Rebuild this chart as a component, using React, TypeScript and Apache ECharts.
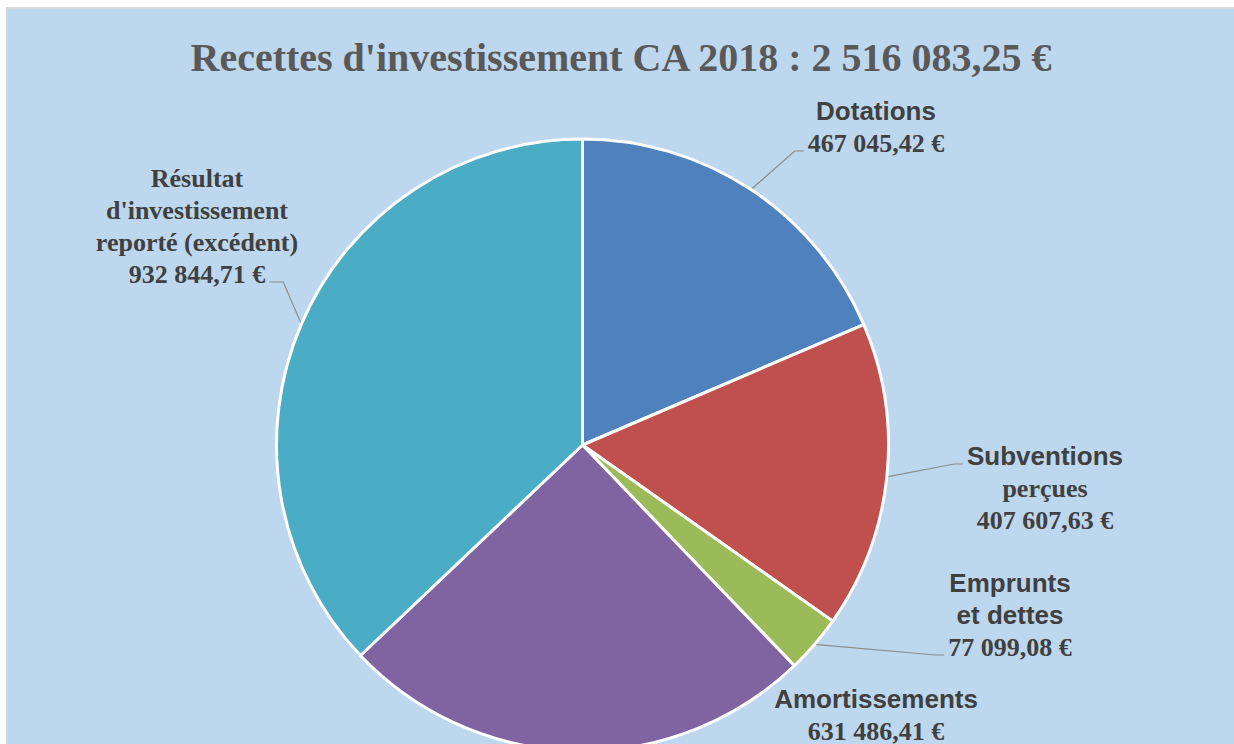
import React, { useEffect, useRef } from "react";
import * as echarts from "echarts";

const titleText = "Recettes d'investissement CA 2018 : 2 516 083,25 €";
const categories = [
  "Dotations",
  "Subventions perçues",
  "Emprunts et dettes",
  "Amortissements",
  "Résultat d'investissement reporté (excédent)",
];
const values = [467045.42, 407607.63, 77099.08, 631486.41, 932844.71];
const colors = ["#4F81BD", "#C0504D", "#9BBB59", "#8064A2", "#4BACC6"];
// label rows: [style, text]; the value row is appended
const labelRows: [string, string][][] = [
  [["s", "Dotations"]],
  [["s", "Subventions"], ["r", "perçues"]],
  [["s", "Emprunts"], ["s", "et dettes"]],
  [["s", "Amortissements"]],
  [["r", "Résultat"], ["r", "d'investissement"], ["r", "reporté (excédent)"]],
];
// row of the label that the leader line points to (-1: no leader line)
const leaderRow = [1, 0, 2, -1, 3];
// label block centres (chart pixels)
const labelPos = [
  [868, 118],
  [1037, 479],
  [1002, 606],
  [868, 706],
  [189, 217],
];

const FONT_SIZE = 26;
const LINE_H = 32;
const fonts: Record<string, string> = {
  s: `bold ${FONT_SIZE}px "Liberation Sans"`,
  r: `bold ${FONT_SIZE}px "Liberation Serif"`,
};

function fmtEuro(v: number): string {
  const [i, d] = v.toFixed(2).split(".");
  const g = i.replace(/\B(?=(\d{3})+(?!\d))/g, " ");
  return g + "," + d + " €";
}

let ctx: CanvasRenderingContext2D | null = null;
function textWidth(style: string, t: string): number {
  if (!ctx) ctx = document.createElement("canvas").getContext("2d");
  if (!ctx) return t.length * 12;
  ctx.font = fonts[style];
  return ctx.measureText(t).width;
}

function rowsOf(i: number): [string, string][] {
  return [...labelRows[i], ["r", fmtEuro(values[i])]];
}

export default function App() {
  const ref = useRef<HTMLDivElement>(null);
  useEffect(() => {
    if (!ref.current) return;
    const chart = echarts.init(ref.current, undefined, { renderer: "svg" });
    const center = [574.5, 436];
    const radius = 306;
    const data = categories.map((name, i) => ({
      name,
      value: values[i],
      itemStyle: { color: colors[i] },
      labelLine: { show: leaderRow[i] >= 0 },
    }));
    const total = values.reduce((a, b) => a + b, 0);
    chart.setOption({
      animation: false,
      backgroundColor: "#BDD7EE",
      title: {
        text: titleText,
        left: "center",
        top: 23,
        textStyle: {
          fontFamily: "Liberation Serif",
          fontWeight: "bold",
          fontSize: 40,
          color: "#595959",
        },
      },
      series: [
        {
          type: "pie",
          center,
          radius: [0, radius],
          startAngle: 90,
          clockwise: true,
          data,
          itemStyle: { borderColor: "#FFFFFF", borderWidth: 3 },
          label: {
            show: true,
            position: "outside",
            align: "center",
            formatter: (p: any) =>
              rowsOf(p.dataIndex)
                .map(([s, t]) => `{${s}|${t}}`)
                .join("\n"),
            rich: {
              s: {
                fontFamily: "Liberation Sans",
                fontWeight: "bold",
                fontSize: FONT_SIZE,
                lineHeight: LINE_H,
                color: "#404040",
                align: "center",
              },
              r: {
                fontFamily: "Liberation Serif",
                fontWeight: "bold",
                fontSize: FONT_SIZE,
                lineHeight: LINE_H,
                color: "#404040",
                align: "center",
              },
            },
          },
          labelLine: {
            show: true,
            length: 20,
            length2: 10,
            lineStyle: { color: "#8C8C8C", width: 1.2 },
          },
          labelLayout: (p: any) => {
            const i = p.dataIndex;
            const [x, y] = labelPos[i];
            const out: any = { x, y, align: "center", verticalAlign: "middle" };
            const r = leaderRow[i];
            if (r >= 0) {
              const rows = rowsOf(i);
              const n = rows.length;
              // start on the slice edge at the slice's middle angle
              let before = 0;
              for (let k = 0; k < i; k++) before += values[k];
              const mid = ((before + values[i] / 2) / total) * Math.PI * 2;
              const sx = center[0] + radius * Math.sin(mid);
              const sy = center[1] - radius * Math.cos(mid);
              const dir = x > sx ? 1 : -1;
              const w = textWidth(rows[r][0], rows[r][1]);
              const ex = x - dir * (w / 2 + 4);
              const ey = y + (r - (n - 1) / 2) * LINE_H + 8;
              out.labelLinePoints = [
                [sx, sy],
                [ex - dir * (i === 4 ? 14 : 9), ey],
                [ex, ey],
              ];
            }
            return out;
          },
          emphasis: { disabled: true },
        },
      ],
    });
    return () => chart.dispose();
  }, []);
  return (
    <div
      style={{
        position: "fixed",
        left: 0,
        top: 0,
        width: 1234,
        height: 744,
        background: "#FFFFFF",
        overflow: "hidden",
      }}
    >
      <div
        style={{
          position: "absolute",
          left: 6,
          top: 7,
          width: 1228,
          height: 737,
          background: "#D6D6D6",
        }}
      />
      <div
        ref={ref}
        style={{
          position: "absolute",
          left: 8,
          top: 9,
          width: 1226,
          height: 735,
        }}
      />
    </div>
  );
}
